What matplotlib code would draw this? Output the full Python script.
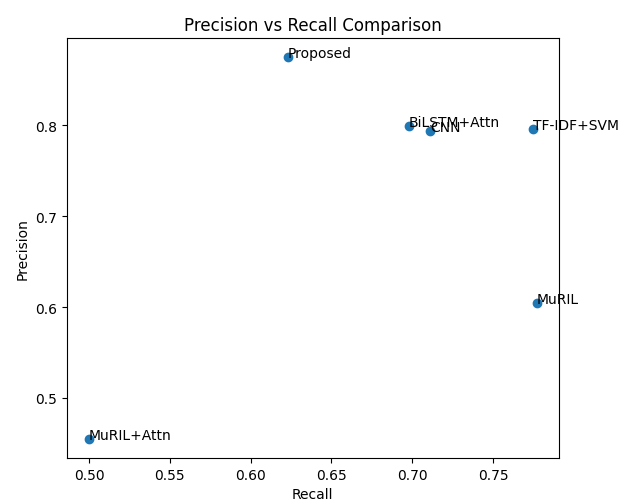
import matplotlib.pyplot as plt

# data
models = ["Proposed", "BiLSTM+Attn", "CNN", "TF-IDF+SVM", "MuRIL", "MuRIL+Attn"]
recall = [0.623, 0.698, 0.711, 0.775, 0.777, 0.500]
precision = [0.875, 0.799, 0.794, 0.796, 0.604, 0.455]

fig, ax = plt.subplots(figsize=(6.27, 5.02), dpi=100)
fig.subplots_adjust(left=0.1064, right=0.8915, top=0.9223, bottom=0.0857)

ax.scatter(recall, precision)
for name, r, p in zip(models, recall, precision):
    ax.text(r, p, name)

ax.set_xlabel("Recall")
ax.set_ylabel("Precision")
ax.set_title("Precision vs Recall Comparison")

fig.savefig("out.png")
